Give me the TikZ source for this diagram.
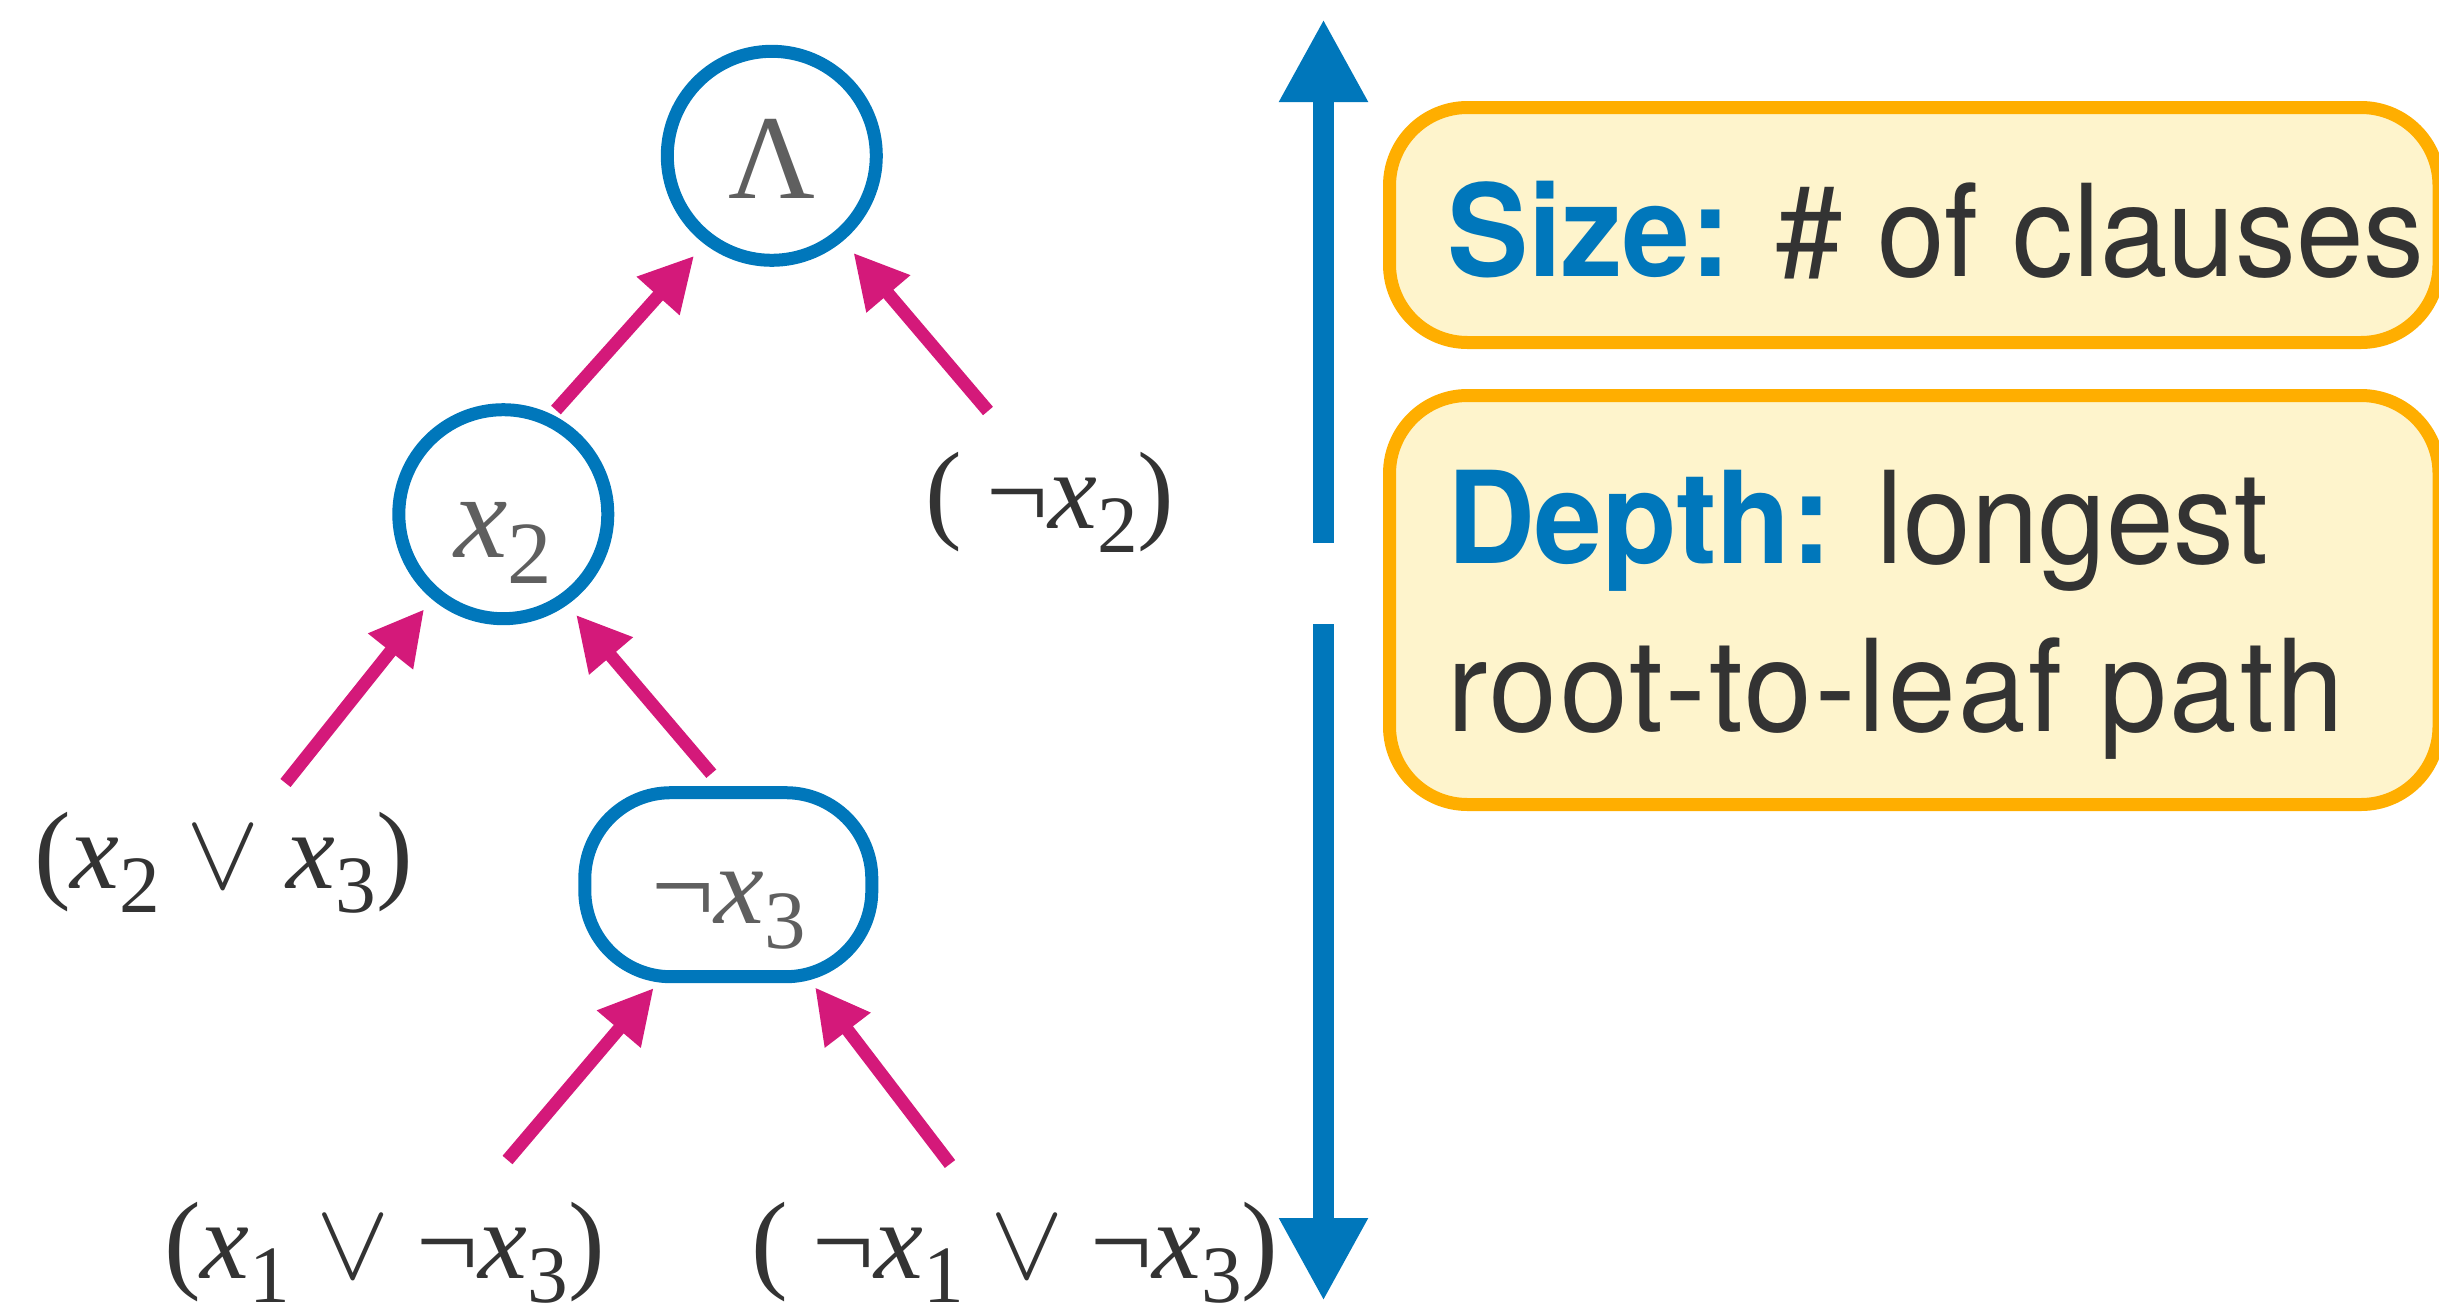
\RequirePackage{fix-cm}
\documentclass[tikz,border=0pt]{standalone}
\usepackage{fontspec}
\setmainfont{Liberation Serif}
\newfontfamily\heros[FakeStretch=0.95]{TeX Gyre Heros}
\usetikzlibrary{arrows.meta}
\definecolor{cblue}{HTML}{0077BB}
\definecolor{cpink}{HTML}{D4197A}
\definecolor{corange}{HTML}{FFAE00}
\definecolor{cfill}{HTML}{FEF4CC}
\definecolor{cnode}{HTML}{5F5F5F}
\definecolor{ctext}{HTML}{333333}
\newcommand{\vx}[1]{\textit{x}\raisebox{-0.22em}{\scalebox{0.74}{#1}}}
\newcommand{\vor}{\hspace{0.24em}$\vee$\hspace{0.24em}}
\begin{document}
\begin{tikzpicture}[x=1pt,y=-1pt,
  treenode/.style={draw=cblue, line width=13pt, text=cnode, inner sep=0pt, outer sep=0pt},
  roundnode/.style={treenode, circle, minimum size=209pt, text height=95pt, text depth=9pt,
    font=\fontsize{120}{140}\selectfont},
  pillnode/.style={treenode, rectangle, rounded corners=86pt, minimum width=287pt,
    minimum height=184pt, text height=88pt, text depth=10pt, font=\fontsize{112}{130}\selectfont},
  leaf/.style={inner sep=0pt, outer sep=0pt, text=ctext, anchor=base, font=\fontsize{110}{130}\selectfont},
  parr/.style={draw=cpink, line width=13pt, -{Triangle[length=54pt,width=54pt]}},
  varr/.style={draw=cblue, line width=21pt, -{Triangle[length=83pt,width=83pt]}},
  infobox/.style={draw=corange, fill=cfill, line width=13pt, rounded corners=78pt,
    minimum width=1049.5pt, inner sep=0pt, outer sep=0pt},
  boxtxt/.style={inner sep=0pt, outer sep=0pt, anchor=base west, text=ctext,
    font=\heros\fontsize{128}{150}\selectfont}]
\useasboundingbox (0,0) rectangle (2439,1312);

% tree nodes
\node[roundnode] (root) at (771.8,155.8) {Λ};
\node[roundnode] (x2) at (503.3,514.2) {\vx{2}};
\node[pillnode] (n3) at (728.3,884.7) {¬\vx{3}};

% leaves
\node[leaf] (l1) at (1050,528) {(\hspace{0.22em}¬\vx{2})};
\node[leaf] (l2) at (223.5,888) {(\vx{2}\vor\vx{3})};
\node[leaf] (l3) at (384.5,1278) {(\vx{1}\vor¬\vx{3})};
\node[leaf] (l4) at (1015,1278) {(\hspace{0.22em}¬\vx{1}\vor¬\vx{3})};

% pink arrows
\draw[parr, shorten <=12.7pt, shorten >=22.2pt] (x2.65.66) -- (root.233.87);
\draw[parr, shorten >=22.3pt] ([xshift=-62pt,yshift=117pt]l1.base) -- (root.310.4);
\draw[parr, shorten >=19.2pt] ([xshift=62pt,yshift=105pt]l2.base) -- (x2.230.7);
\draw[parr, shorten >=19.8pt] ([xshift=-17pt,yshift=111pt]n3.center) -- (x2.305.8);
\draw[parr] ([xshift=123pt,yshift=118pt]l3.base) -- ([xshift=-74.6pt,yshift=-103.3pt]n3.center);
\draw[parr] ([xshift=-65pt,yshift=114pt]l4.base) -- ([xshift=86.7pt,yshift=-102.6pt]n3.center);

% vertical double arrow
\coordinate (vtop) at (1323.5,19);
\coordinate (vmidA) at (1323.5,543);
\coordinate (vmidB) at (1323.5,624);
\coordinate (vbot) at (1323.5,1301);
\draw[varr] (vmidA) -- (vtop);
\draw[varr] (vmidB) -- (vbot);

% info boxes
\node[infobox, minimum height=235pt] (sizebox) at (1914.25,225) {};
\node[infobox, minimum height=409pt] (depthbox) at (1914.25,600) {};
\node[boxtxt] (sizetxt) at (1447,276) {{\bfseries\color{cblue}Size:} \# of clauses};
\node[boxtxt] (depthtxt) at (1447,563) {{\bfseries\color{cblue}Depth:} longest};
\node[boxtxt] (pathtxt) at (1447,731) {\addfontfeature{LetterSpace=2.2}root-to-leaf path};
\end{tikzpicture}
\end{document}
